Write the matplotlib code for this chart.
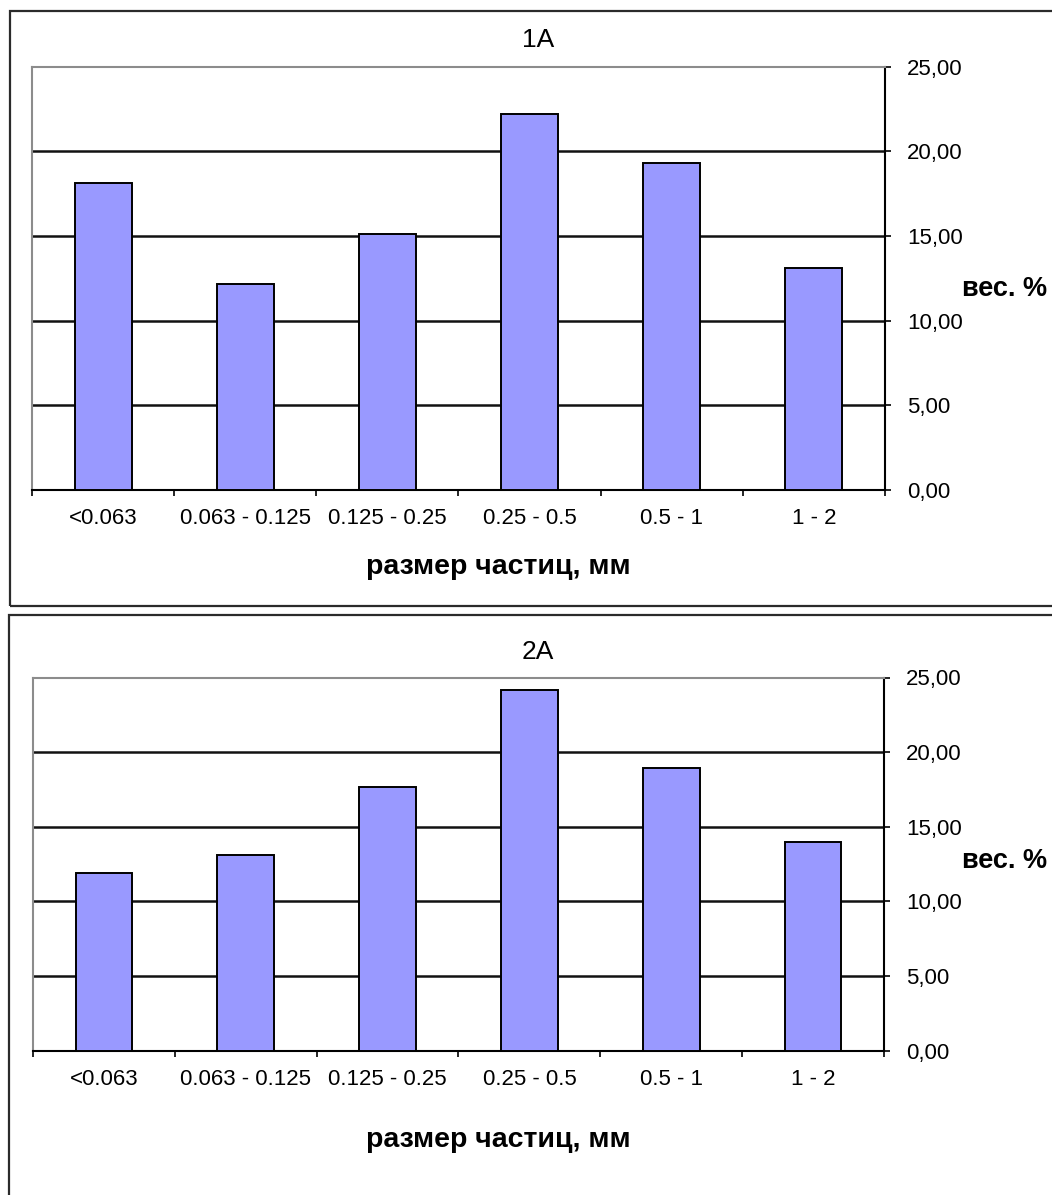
import matplotlib
matplotlib.use("Agg")
import matplotlib.pyplot as plt
from matplotlib.patches import Rectangle
from matplotlib.ticker import FixedLocator, NullFormatter, FixedFormatter
import numpy as np

plt.rcParams["font.family"] = ["Liberation Sans", "DejaVu Sans"]

# Grain-size fractions, mm
fractions = ["<0.063", "0.063 - 0.125", "0.125 - 0.25", "0.25 - 0.5", "0.5 - 1", "1 - 2"]
# Weight percent per fraction for each sample
sample_1a = [18.15, 12.19, 15.10, 22.22, 19.31, 13.12]
sample_2a = [11.92, 13.10, 17.64, 24.16, 18.91, 13.95]
sample_names = ["1A", "2A"]
y_ticks = [0, 5, 10, 15, 20, 25]

W, H = 1052, 1195
BAR_COLOR = "#9999FF"

fig = plt.figure(figsize=(W / 100, H / 100), dpi=100)


def px(x, y):
    """Pixel position (from top-left) to figure fraction."""
    return x / W, 1 - y / H


def panel_frame(x0, y_top, y_bot):
    fx, fy_top = px(x0, y_top)
    _, fy_bot = px(x0, y_bot)
    fig.patches.append(Rectangle((fx, fy_bot), 1.2, fy_top - fy_bot,
                                 transform=fig.transFigure, fill=False,
                                 edgecolor="#2b2b2b", linewidth=1.6))


def draw_panel(values, name, left, right, top, bottom, title_y, xlabel_y, ylabel_y):
    l, t = px(left, top)
    r, b = px(right, bottom)
    ax = fig.add_axes([l, b, r - l, t - b])
    x = np.arange(len(fractions))
    ax.bar(x, values, width=0.4, color=BAR_COLOR, edgecolor="black",
           linewidth=1.4, zorder=3)
    ax.set_xlim(-0.5, len(fractions) - 0.5)
    ax.set_ylim(0, 25)

    # gridlines below the top border
    for v in y_ticks[1:-1]:
        ax.axhline(v, color="#111111", linewidth=1.8, zorder=1)

    ax.spines["top"].set_color("#8c8c8c")
    ax.spines["left"].set_color("#8c8c8c")
    ax.spines["right"].set_color("black")
    ax.spines["bottom"].set_color("black")
    for s in ax.spines.values():
        s.set_linewidth(1.5)

    ax.yaxis.tick_right()
    ax.set_yticks(y_ticks)
    ax.set_yticklabels([f"{v:.2f}".replace(".", ",") for v in y_ticks])
    ax.tick_params(axis="y", direction="out", length=4, width=1.2,
                   pad=12, labelsize=16, colors="black")

    ax.xaxis.set_major_locator(FixedLocator(np.arange(len(fractions) + 1) - 0.5))
    ax.xaxis.set_major_formatter(NullFormatter())
    ax.xaxis.set_minor_locator(FixedLocator(x))
    ax.xaxis.set_minor_formatter(FixedFormatter(fractions))
    ax.tick_params(axis="x", which="major", direction="out", length=4.5, width=1.2)
    ax.tick_params(axis="x", which="minor", length=0, pad=13, labelsize=16)

    cx = (10 + 1070) / 2
    fig.text(*px(cx - 2, title_y), name, ha="center", va="center", fontsize=19)
    fig.text(*px(498, xlabel_y), "размер частиц, мм", ha="center", va="center",
             fontsize=20.5, fontweight="bold")
    fig.text(*px(962, ylabel_y), "вес. %", ha="left", va="center",
             fontsize=19.5, fontweight="bold")
    return ax


panel_frame(10, 11, 606)
panel_frame(9, 615, 1215)

draw_panel(sample_1a, sample_names[0], 32, 885, 66.7, 490, 40, 567, 289)
draw_panel(sample_2a, sample_names[1], 33, 884, 677.5, 1050.5, 652, 1140, 861)

fig.savefig("out.png", dpi=100)
